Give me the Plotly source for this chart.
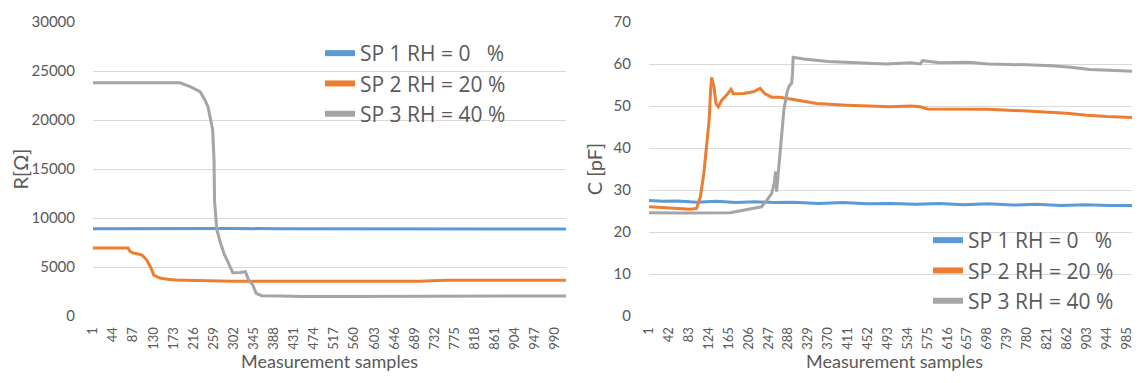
import plotly.graph_objects as go

# ---------------- data ----------------
names = ["SP 1 RH = 0\u00a0\u00a0\u00a0%", "SP 2 RH = 20 %", "SP 3 RH = 40 %"]
colors = ["#5B9BD5", "#ED7D31", "#A5A5A5"]

# Left panel: resistance R [Ohm]
r_sp1_x = [1, 100, 200, 300, 400, 500, 600, 700, 800, 900, 1013]
r_sp1_y = [8900, 8920, 8900, 8930, 8900, 8890, 8900, 8910, 8890, 8900, 8880]
r_sp2_x = [1, 76, 80, 87, 100, 106, 116, 125, 131, 138, 144, 160, 180, 220, 258,
           300, 400, 500, 600, 700, 740, 760, 850, 1013]
r_sp2_y = [6940, 6940, 6600, 6430, 6300, 6220, 5710, 4900, 4180, 3980, 3880, 3760,
           3670, 3620, 3570, 3550, 3540, 3530, 3540, 3540, 3610, 3650, 3660, 3650]
r_sp3_x = [1, 60, 120, 187, 209, 230, 241, 247, 257, 260, 261, 266, 273, 281, 291,
           300, 316, 327, 334, 343, 350, 362, 401, 450, 550, 650, 700, 800, 900, 1013]
r_sp3_y = [23800, 23780, 23820, 23800, 23400, 22900, 22000, 21350, 19000, 15900,
           11800, 8800, 7580, 6400, 5370, 4420, 4450, 4520, 3670, 3160, 2310, 2070,
           2040, 1980, 1980, 1990, 1990, 2020, 2040, 2050]

# Right panel: capacitance C [pF]
c_sp1_x = [1, 30, 60, 100, 140, 180, 220, 260, 300, 350, 400, 450, 500, 550, 600,
           650, 700, 750, 800, 850, 900, 950, 1013]
c_sp1_y = [27.5, 27.3, 27.4, 27.1, 27.3, 27.0, 27.2, 27.0, 27.1, 26.8, 27.0, 26.7,
           26.8, 26.6, 26.8, 26.5, 26.7, 26.4, 26.6, 26.3, 26.5, 26.3, 26.3]
c_sp2_x = [1, 40, 86, 99, 107, 114, 121, 125, 128, 130, 135, 139, 144, 151, 161, 170,
           175, 196, 216, 230, 240, 254, 271, 306, 347, 409, 498, 540, 560, 575, 620,
           700, 780, 830, 862, 903, 944, 1013]
c_sp2_y = [26.0, 25.8, 25.4, 25.6, 28.4, 34.0, 41.9, 46.7, 53.8, 56.8, 54.6, 50.6,
           49.8, 51.4, 52.6, 54.0, 52.9, 53.0, 53.4, 54.2, 52.9, 52.1, 52.1, 51.4,
           50.6, 50.2, 49.8, 50.0, 49.8, 49.3, 49.3, 49.2, 48.8, 48.6, 48.3, 47.8,
           47.5, 47.2]
c_sp3_x = [1, 65, 168, 189, 209, 233, 244, 254, 259, 262, 264, 270, 274, 279, 285,
           290, 295, 297, 298, 320, 370, 450, 490, 540, 560, 565, 600, 660, 700, 780,
           830, 870, 910, 950, 1013]
c_sp3_y = [24.6, 24.5, 24.6, 25.1, 25.4, 26.0, 27.6, 29.2, 31.6, 34.4, 29.6, 37.1,
           41.9, 49.0, 53.0, 54.8, 55.4, 58.0, 61.6, 61.2, 60.6, 60.3, 60.0, 60.3,
           60.0, 60.8, 60.3, 60.4, 60.0, 59.8, 59.6, 59.2, 58.7, 58.5, 58.2]

left_ticks = [1, 44, 87, 130, 173, 216, 259, 302, 345, 388, 431, 474, 517, 560, 603,
              646, 689, 732, 775, 818, 861, 904, 947, 990]
right_ticks = [1, 42, 83, 124, 165, 206, 247, 288, 329, 370, 411, 452, 493, 534, 575,
               616, 657, 698, 739, 780, 821, 862, 903, 944, 985]

# ---------------- figure ----------------
FONT = "Lato"
LFONT = "Open Sans"
TXT = "#595959"
GRID = "#D9D9D9"
OFF = 8                      # default page body margin of the html page
W, H = 1140 - OFF, 383 - OFF  # figure size so that the page is exactly filled


def px_x(p):  # page x pixel -> paper fraction
    return (p - OFF) / W


def px_y(p):  # page y pixel -> paper fraction
    return 1 - (p - OFF) / H


fig = go.Figure()
panels = [
    ("x", "y", "legend", [(r_sp1_x, r_sp1_y), (r_sp2_x, r_sp2_y), (r_sp3_x, r_sp3_y)]),
    ("x2", "y2", "legend2", [(c_sp1_x, c_sp1_y), (c_sp2_x, c_sp2_y), (c_sp3_x, c_sp3_y)]),
]
for xa, ya, lg, series in panels:
    for i, (xs, ys) in enumerate(series):
        fig.add_trace(go.Scatter(x=xs, y=ys, mode="lines", name=names[i],
                                 line=dict(color=colors[i], width=3),
                                 xaxis=xa, yaxis=ya, showlegend=False,
                                 legendgroup=lg + str(i)))
        # legend entry with the thick key of the original
        fig.add_trace(go.Scatter(x=[None], y=[None], mode="lines", name=names[i],
                                 line=dict(color=colors[i], width=6),
                                 xaxis=xa, yaxis=ya, legend=lg,
                                 legendgroup=lg + str(i), hoverinfo="skip"))

ydom = [px_y(316), px_y(22)]

xcommon = dict(showgrid=False, zeroline=False, showline=False, ticks="outside",
               ticklen=5, tickcolor="rgba(0,0,0,0)", tickangle=-90,
               automargin=False,
               tickfont=dict(family=FONT, size=13, color=TXT),
               title=dict(text="Measurement samples",
                          font=dict(family=FONT, size=18, color=TXT), standoff=0))
ycommon = dict(showgrid=True, gridcolor=GRID, gridwidth=1, zeroline=False,
               showline=False, ticks="outside", ticklen=14,
               tickcolor="rgba(0,0,0,0)", tickformat="d", automargin=False,
               tickfont=dict(family=FONT, size=15, color=TXT), domain=ydom)

fig.update_layout(
    width=W, height=H, margin=dict(l=0, r=0, t=0, b=0),
    paper_bgcolor="white", plot_bgcolor="white",
    font=dict(family=FONT, color=TXT),
    xaxis=dict(domain=[px_x(93), px_x(566)], range=[1, 1013], tickvals=left_ticks,
               anchor="y", **xcommon),
    yaxis=dict(range=[0, 30000], dtick=5000, anchor="x",
               title=dict(text="R[Ω]", font=dict(family=FONT, size=20, color=TXT),
                          standoff=3), **ycommon),
    xaxis2=dict(domain=[px_x(649), 1.0], range=[1, 1013], tickvals=right_ticks,
                anchor="y2", **xcommon),
    yaxis2=dict(range=[0, 70], dtick=10, anchor="x2",
                title=dict(text="C [pF]", font=dict(family=FONT, size=20, color=TXT),
                           standoff=5), **ycommon),
    legend=dict(x=px_x(320), y=px_y(33), xanchor="left", yanchor="top",
                bgcolor="rgba(0,0,0,0)", tracegroupgap=0,
                font=dict(family=LFONT, size=21, color=TXT)),
    legend2=dict(x=px_x(928), y=px_y(220), xanchor="left", yanchor="top",
                 bgcolor="rgba(0,0,0,0)", tracegroupgap=0,
                 font=dict(family=LFONT, size=21, color=TXT)),
)

fig.write_html("out.html")
